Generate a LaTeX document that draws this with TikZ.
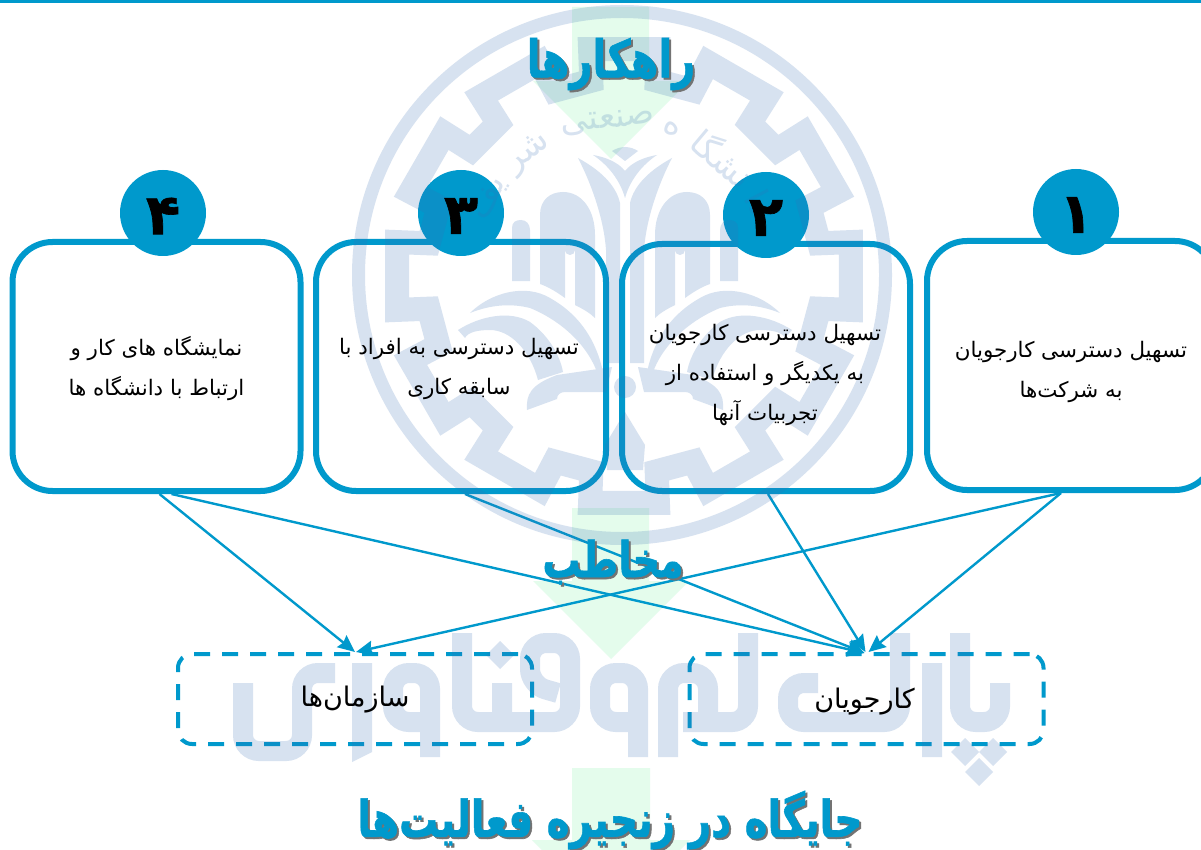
\documentclass[tikz,border=0pt]{standalone}
\usepackage{fontspec}
\usepackage{graphicx}
\usetikzlibrary{arrows.meta,calc}
\TeXXeTstate=1
\newfontfamily\arabicfont[Script=Arabic]{DejaVu Sans}
\newfontfamily\heavyfont[Script=Arabic,FakeBold=1.2]{DejaVu Sans Bold}
\newcommand{\rtl}[1]{\beginR #1\endR}
\newcommand{\fsz}[2]{\fontsize{#1}{#2}\selectfont}
\newcommand{\tallrtl}[1]{\scalebox{1}[1.3]{\rtl{#1}}}
\definecolor{brand}{HTML}{0099CC}
\definecolor{logo}{RGB}{55,110,180}
\definecolor{greenarrow}{HTML}{E4FCEC}
\tikzset{
  x=1pt,y=-1pt,
  card/.style={draw=brand,line width=6pt,rounded corners=40pt,minimum width=288pt,minimum height=249pt,inner sep=0pt},
  cardtext/.style={align=center,font=\arabicfont\fsz{21.4}{40},text=black,inner sep=0pt},
  badge/.style={circle,fill=brand,minimum size=86pt,inner sep=0pt},
  digit/.style={font=\heavyfont\fsz{56}{56},text=black,inner sep=0pt},
  target/.style={draw=brand,line width=4pt,rounded corners=14pt,dash pattern=on 16pt off 12pt,minimum width=354pt,minimum height=90pt,inner sep=0pt},
  targettext/.style={font=\arabicfont\fsz{27}{30},text=black,inner sep=0pt},
  link/.style={draw=brand,line width=2.4pt,-{Stealth[length=17pt,width=15pt,inset=2pt]}},
  title/.style={font=\heavyfont\fsz{#1}{#1},text=brand,inner sep=0pt},
  shadowtext/.style={font=\heavyfont\fsz{#1}{#1},text=black!55,inner sep=0pt},
  wm/.style={draw=logo,line width=20pt,rounded corners=16pt,fill=none},
  ringword/.style={font=\arabicfont\fsz{34}{34},text=logo,inner sep=0pt},
}
\newcommand{\halfemblem}{%
  % petal and stem
  \fill[logo] (578,158) .. controls (600,170) and (616,185) .. (620,203) -- (620,363) -- (606,363) -- (606,250) .. controls (604,220) and (592,185) .. (578,158) -- cycle;
  % chevron leaf
  \fill[logo] (593,155) .. controls (605,157) and (618,162) .. (625,171) -- (625,198) .. controls (620,180) and (608,165) .. (593,155) -- cycle;
  \fill[logo] (625,147) .. controls (620,147) and (615,149) .. (612,151) -- (625,161) -- cycle;
  % arch
  \fill[logo] (540,284) -- (540,215) .. controls (540,200) and (550,192) .. (563,192) .. controls (582,192) and (595,210) .. (595,235) -- (595,318) .. controls (590,313) and (583,309) .. (575,305) -- (575,250) arc[start angle=0,end angle=180,radius=5] -- (565,298) .. controls (558,293) and (549,287) .. (540,284) -- cycle;
  % small column
  \fill[logo] (512,281) -- (512,228) .. controls (512,222) and (516,220) .. (521,220) .. controls (526,220) and (530,224) .. (530,230) -- (530,281) -- cycle;
  % crescent
  \fill[logo] (470,313) .. controls (490,293) and (525,283) .. (550,298) .. controls (575,312) and (595,335) .. (603,372) -- (597,372) .. controls (585,340) and (555,318) .. (530,308) .. controls (510,303) and (490,305) .. (470,313) -- cycle;
  % second band
  \fill[logo] (458,330) .. controls (480,316) and (510,310) .. (530,322) .. controls (548,335) and (560,355) .. (563,372) -- (538,380) .. controls (530,350) and (510,330) .. (490,330) .. controls (478,330) and (468,332) .. (465,338) -- cycle;
  % lower body with slot
  \fill[logo] (527,410) .. controls (526,395) and (530,385) .. (557,375) -- (612,367) -- (606,392) -- (565,392) .. controls (560,392) and (557,395) .. (557,399) -- cycle;
  % triangle
  \fill[logo] (625,412) -- (605,445) -- (607,470) -- (625,470) -- cycle;
}
\begin{document}
\begin{tikzpicture}
\path[use as bounding box] (0,0) rectangle (1201,850);
\clip (0,0) rectangle (1201,850);
\fill[white] (0,0) rectangle (1201,850);
% green arrows
\fill[greenarrow] (572,7) -- (649,7) -- (649,81) -- (689,81) -- (611,159) -- (533,81) -- (572,81) -- cycle;
\fill[greenarrow] (572,508) -- (649,508) -- (649,581) -- (689,581) -- (611,659) -- (533,581) -- (572,581) -- cycle;
\fill[greenarrow] (572,768) -- (650,768) -- (650,840) -- (690,840) -- (611,919) -- (532,840) -- (572,840) -- cycle;
\fill[brand] (0,0) rectangle (1201,3);
% boxes
\node[card] (b4) at (156.5,366.5) {};
\node[card,minimum width=290pt] (b3) at (461,366.5) {};
\node[card,minimum height=247pt] (b2) at (766,367.5) {};
\node[card] (b1) at (1071,365.5) {};
\node[target] (s) at (355,699) {};
\node[target] (k) at (866.5,699) {};
% connectors
\draw[link] ($(b4.south)+(3,0)$) -- (s.north);
\draw[link] ($(b4.south)+(15,0)$) -- ($(k.north)+(-2,1)$);
\draw[link] ($(b3.south)+(4,0)$) -- ($(k.north)+(-2,1)$);
\draw[link] ($(b2.south)+(2,0)$) -- ($(k.north)+(-1,0)$);
\draw[link] ($(b1.south)+(-10,0)$) -- ($(k.north)+(2,0)$);
\draw[link] ($(b1.south)+(-10,0)$) -- ($(s.north)+(1,0)$);
% badges
\node[badge] (n4) at (163,213) {};
\node[badge] (n3) at (461,213) {};
\node[badge] (n2) at (766,215) {};
\node[badge] (n1) at (1076,212) {};
% watermark
\begin{scope}[transparency group,opacity=.2]
  \draw[logo,line width=13pt] (622,275) circle[radius=263.5];
  \draw[logo,line width=24pt,miter limit=10]
    ({624+198*cos(99.5)},{276-198*sin(99.5)})
    \foreach \c in {90,60,...,-240}{
      -- ({624+229.5*cos(\c+8.5)},{276-229.5*sin(\c+8.5)})
      -- ({624+229.5*cos(\c-8.5)},{276-229.5*sin(\c-8.5)})
      -- ({624+198*cos(\c-9.5)},{276-198*sin(\c-9.5)})
      -- ({624+198*cos(\c-20.5)},{276-198*sin(\c-20.5)})
    } -- cycle;
  \halfemblem
  \begin{scope}[shift={(1250,0)},xscale=-1]
    \halfemblem
  \end{scope}
  \fill[logo] (625,387) circle[radius=11];
  \node[ringword,rotate=-62] (w1) at ({624+155*cos(28)},{276-155*sin(28)}) {\rtl{دا}};
  \node[ringword,rotate=-40] (w2) at ({624+155*cos(50)},{276-155*sin(50)}) {\rtl{نشگا}};
  \node[ringword,rotate=-18] (w3) at ({624+155*cos(72)},{276-155*sin(72)}) {\rtl{ه}};
  \node[ringword,rotate=6] (w4) at ({624+155*cos(96)},{276-155*sin(96)}) {\rtl{صنعتی}};
  \node[ringword,rotate=38] (w5) at ({624+155*cos(128)},{276-155*sin(128)}) {\rtl{شر}};
  \node[ringword,rotate=60] (w6) at ({624+155*cos(150)},{276-155*sin(150)}) {\rtl{یف}};
  % park watermark
  \draw[wm] (243,683) -- (243,751) -- (302,751) -- (302,673) -- (335,673);
  \fill[logo] (352,663) -- (372,663) -- (372,752) -- (352,762) -- cycle;
  \draw[wm] (430,757) -- (430,673) -- (393,673) -- (393,722) -- (421,722);
  \draw[wm] (462,633) -- (462,722) -- (570,722) -- (570,643) -- (530,643) -- (530,685) -- (558,693);
  \draw[wm,rounded corners=0pt] (502,683) -- (502,712);
  \fill[logo] (500,641) -- (514,655) -- (500,669) -- (486,655) -- cycle;
  \draw[wm] (638,757) -- (638,673) -- (600,673) -- (600,722) -- (628,722);
  \draw[wm] (668,757) -- (668,673) -- (708,673) -- (708,712);
  \draw[wm] (683,722) -- (748,722) -- (748,633);
  \draw[wm] (818,683) -- (788,683) -- (788,722) -- (900,722) -- (900,633);
  \draw[wm,rounded corners=0pt] (932,663) -- (932,757);
  \draw[wm] (960,633) -- (960,722) -- (1000,722) -- (1000,683);
  \fill[logo] (965,738) -- (979,752) -- (965,766) -- (951,752) -- cycle;
  \fill[logo] (993,738) -- (1007,752) -- (993,766) -- (979,752) -- cycle;
  \fill[logo] (979,758) -- (993,772) -- (979,786) -- (965,772) -- cycle;
\end{scope}
% texts
\node[cardtext] (tb4) at ($(b4.center)+(0,2)$) {\rtl{نمایشگاه های کار و}\\\rtl{ارتباط با دانشگاه ها}};
\node[cardtext] (tb3) at ($(b3.center)+(-2,2)$) {\rtl{تسهیل دسترسی به افراد با}\\\rtl{سابقه کاری}};
\node[cardtext] (tb2) at ($(b2.center)+(-1,7)$) {\rtl{تسهیل دسترسی کارجویان}\\\rtl{به یکدیگر و استفاده از}\\\rtl{تجربیات آنها}};
\node[cardtext] (tb1) at ($(b1.center)+(0,6)$) {\rtl{تسهیل دسترسی کارجویان}\\\rtl{به شرکت‌ها}};
\node[digit] (d4) at ($(n4.center)+(0,3)$) {\rtl{۴}};
\node[digit] (d3) at ($(n3.center)+(0,3)$) {\rtl{۳}};
\node[digit] (d2) at ($(n2.center)+(0,3)$) {\rtl{۲}};
\node[digit] (d1) at ($(n1.center)+(0,3)$) {\rtl{۱}};
\node[targettext] (ts) at ($(s.center)+(0,1)$) {\rtl{سازمان‌ها}};
\node[targettext] (tk) at ($(k.center)+(-2,3)$) {\rtl{کارجویان}};
% titles
\node[shadowtext=40] (st1) at (613,66) {\tallrtl{راهکارها}};
\node[title=40] (t1) at (611,64) {\tallrtl{راهکارها}};
\node[shadowtext=38] (st2) at (615,564) {\tallrtl{مخاطب}};
\node[title=38] (t2) at (613,562) {\tallrtl{مخاطب}};
\node[shadowtext=39] (st3) at (612,822) {\tallrtl{جایگاه در زنجیره فعالیت‌ها}};
\node[title=39] (t3) at (610,820) {\tallrtl{جایگاه در زنجیره فعالیت‌ها}};
\end{tikzpicture}
\end{document}
